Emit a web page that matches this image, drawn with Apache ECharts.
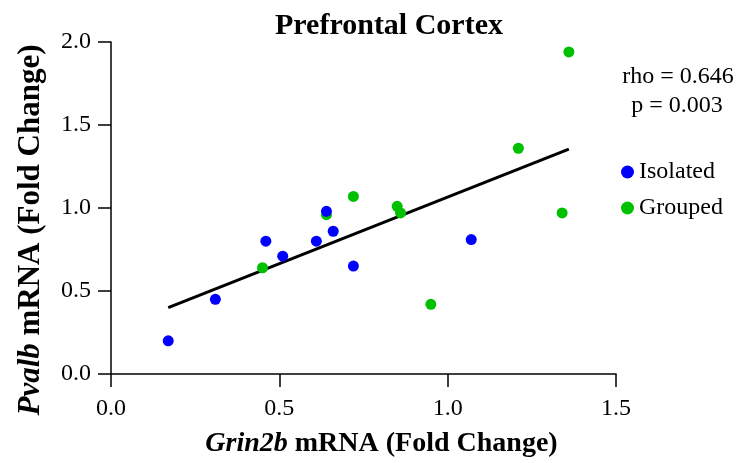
<!DOCTYPE html>
<html>
<head>
<meta charset="utf-8">
<script src="https://cdn.jsdelivr.net/npm/echarts@6/dist/echarts.min.js"></script>
<style>html,body{margin:0;padding:0;background:#fff}#c{width:740px;height:463px}</style>
</head>
<body>
<div id="c"></div>
<script>
// Data
var isolatedX = [0.17, 0.31, 0.46, 0.51, 0.61, 0.64, 0.66, 0.72, 1.07];
var isolatedY = [0.20, 0.45, 0.80, 0.71, 0.80, 0.98, 0.86, 0.65, 0.81];
var groupedX = [0.45, 0.64, 0.72, 0.85, 0.86, 0.95, 1.21, 1.34, 1.36];
var groupedY = [0.64, 0.96, 1.07, 1.01, 0.97, 0.42, 1.36, 0.97, 1.94];
var fitX = [0.17, 1.36];
var fitY = [0.40, 1.355];
var xTicks = [0.0, 0.5, 1.0, 1.5];
var yTicks = [0.0, 0.5, 1.0, 1.5, 2.0];
var seriesNames = ['Isolated', 'Grouped'];
var statsText = ['rho = 0.646', 'p = 0.003'];

function pairs(xs, ys) { return xs.map(function (x, i) { return [x, ys[i]]; }); }

var FONT = '"Liberation Serif", "Times New Roman", serif';
var chart = echarts.init(document.getElementById('c'), null, { renderer: 'canvas' });
var axisCommon = {
  type: 'value',
  interval: 0.5,
  axisLine: { show: true, lineStyle: { color: '#000', width: 1.5 } },
  axisTick: { show: true, inside: false, length: 13, lineStyle: { color: '#000', width: 1.5 } },
  splitLine: { show: false },
  axisLabel: { color: '#000', fontFamily: FONT, fontSize: 24, formatter: function (v) { return v.toFixed(1); } },
  nameLocation: 'middle'
};
chart.setOption({
  backgroundColor: '#fff',
  animation: false,
  title: {
    text: 'Prefrontal Cortex',
    left: 384, top: 6, textAlign: 'center',
    textStyle: { fontFamily: FONT, fontSize: 30, fontWeight: 'bold', color: '#000' }
  },
  grid: { left: 111, right: 124, top: 42, bottom: 85, containLabel: false },
  legend: {
    data: seriesNames,
    orient: 'vertical',
    left: 616, top: 155,
    itemWidth: 13, itemHeight: 13, itemGap: 12,
    icon: 'circle',
    textStyle: { fontFamily: FONT, fontSize: 24, color: '#000' }
  },
  xAxis: Object.assign({}, axisCommon, {
    min: xTicks[0], max: xTicks[xTicks.length - 1],
    axisLabel: Object.assign({}, axisCommon.axisLabel, { margin: 23 }),
    name: '{i|Grin2b} mRNA (Fold Change)',
    nameGap: 56,
    nameTextStyle: {
      fontFamily: FONT, fontSize: 28, fontWeight: 'bold', color: '#000',
      padding: [0, 0, 0, 36],
      rich: { i: { fontFamily: FONT, fontSize: 28, fontWeight: 'bold', fontStyle: 'italic', color: '#000' } }
    }
  }),
  yAxis: Object.assign({}, axisCommon, {
    min: yTicks[0], max: yTicks[yTicks.length - 1],
    axisLabel: Object.assign({}, axisCommon.axisLabel, { margin: 20 }),
    name: '{i|Pvalb} mRNA (Fold Change)',
    nameGap: 65,
    nameTextStyle: {
      fontFamily: FONT, fontSize: 31, fontWeight: 'bold', color: '#000',
      padding: [0, 44, 0, 0],
      rich: { i: { fontFamily: FONT, fontSize: 31, fontWeight: 'bold', fontStyle: 'italic', color: '#000' } }
    }
  }),
  graphic: [
    { type: 'text', x: 678, y: 77, style: { text: statsText[0], font: '24px ' + FONT, fill: '#000', align: 'center', verticalAlign: 'middle' } },
    { type: 'text', x: 677, y: 106, style: { text: statsText[1], font: '24px ' + FONT, fill: '#000', align: 'center', verticalAlign: 'middle' } }
  ],
  series: [
    {
      type: 'line', data: pairs(fitX, fitY), symbol: 'none', silent: true,
      lineStyle: { color: '#000', width: 3 }, z: 2
    },
    {
      name: seriesNames[1], type: 'scatter', data: pairs(groupedX, groupedY),
      symbolSize: 11, itemStyle: { color: '#00c000', opacity: 1 }, z: 3
    },
    {
      name: seriesNames[0], type: 'scatter', data: pairs(isolatedX, isolatedY),
      symbolSize: 11, itemStyle: { color: '#0000ff', opacity: 1 }, z: 4
    }
  ]
});
</script>
</body>
</html>
